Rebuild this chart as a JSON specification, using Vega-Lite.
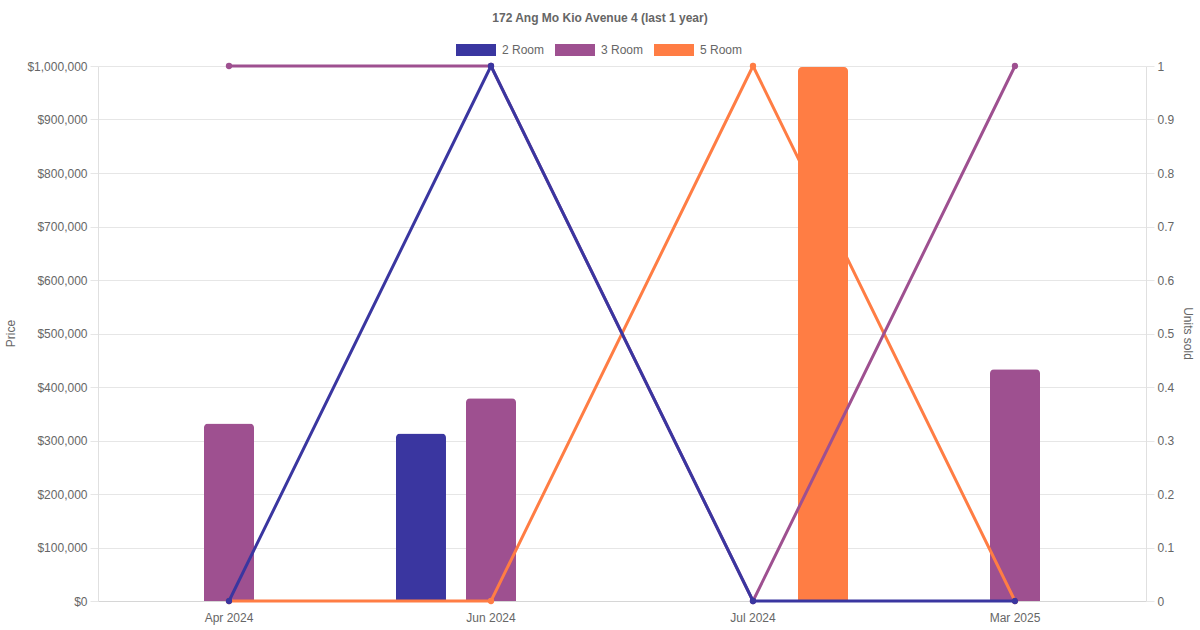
{
  "$schema": "https://vega.github.io/schema/vega-lite/v6.json",
  "width": 1048,
  "height": 535,
  "autosize": {"type": "none"},
  "padding": {"left": 98, "top": 66, "right": 54, "bottom": 29},
  "title": {
    "text": "172 Ang Mo Kio Avenue 4 (last 1 year)",
    "font": "Liberation Sans",
    "fontSize": 12,
    "fontWeight": "bold",
    "color": "#666666",
    "anchor": "middle",
    "frame": "group",
    "dx": -22,
    "offset": 5
  },
  "data": {
    "values": [
      {"month": "Apr 2024", "type": "2 Room", "price": null, "units": 0},
      {"month": "Apr 2024", "type": "3 Room", "price": 332000, "units": 1},
      {"month": "Apr 2024", "type": "5 Room", "price": null, "units": 0},
      {"month": "Jun 2024", "type": "2 Room", "price": 313000, "units": 1},
      {"month": "Jun 2024", "type": "3 Room", "price": 379000, "units": 1},
      {"month": "Jun 2024", "type": "5 Room", "price": null, "units": 0},
      {"month": "Jul 2024", "type": "2 Room", "price": null, "units": 0},
      {"month": "Jul 2024", "type": "3 Room", "price": null, "units": 0},
      {"month": "Jul 2024", "type": "5 Room", "price": 998000, "units": 1},
      {"month": "Mar 2025", "type": "2 Room", "price": null, "units": 0},
      {"month": "Mar 2025", "type": "3 Room", "price": 433000, "units": 1},
      {"month": "Mar 2025", "type": "5 Room", "price": null, "units": 0}
    ]
  },
  "layer": [
    {
      "transform": [{"filter": "datum.price != null && datum.type != '5 Room'"}],
      "mark": {"type": "bar", "cornerRadiusTopLeft": 4, "cornerRadiusTopRight": 4},
      "encoding": {
        "x": {"field": "month", "type": "nominal", "sort": ["Apr 2024", "Jun 2024", "Jul 2024", "Mar 2025"],
              "scale": {"domain": ["Apr 2024", "Jun 2024", "Jul 2024", "Mar 2025"], "paddingInner": 0, "paddingOuter": 0},
              "axis": {"title": null, "labelAngle": 0, "ticks": false, "tickSize": 0, "labelPadding": 11, "grid": false, "domainColor": "#d6d6d6"}},
        "xOffset": {"field": "type", "type": "nominal", "scale": {"domain": ["2 Room", "3 Room", "5 Room"], "paddingInner": 0.2857, "paddingOuter": 0.514}},
        "y": {"field": "price", "type": "quantitative", "scale": {"domain": [0, 1000000], "nice": false},
              "axis": {"title": "Price", "orient": "left", "format": "$,.0f", "values": [0,100000,200000,300000,400000,500000,600000,700000,800000,900000,1000000],
                       "labelOverlap": false, "grid": true, "tickSize": 8, "labelPadding": 3, "titleAngle": -90, "titleBaseline": "middle", "titleX": -88, "titleY": 267, "titleFontWeight": "normal"}},
        "color": {"field": "type", "type": "nominal",
                  "scale": {"domain": ["2 Room", "3 Room", "5 Room"], "range": ["#3a36a0", "#9e5090", "#ff7d44"]},
                  "legend": {"orient": "none", "direction": "horizontal", "legendX": 358, "legendY": -36, "title": null,
                             "symbolType": "M-1,-0.3H1V0.3H-1Z", "symbolSize": 1600, "symbolStrokeWidth": 0, "symbolOpacity": 1,
                             "labelFontSize": 12, "labelColor": "#666666", "labelFont": "Liberation Sans", "labelOffset": 6, "columnPadding": 10, "padding": 0}}
      }
    },
    {
      "transform": [{"filter": "datum.type == '5 Room'"}],
      "mark": {"type": "line", "strokeWidth": 3, "point": {"filled": true, "size": 40}},
      "encoding": {
        "x": {"field": "month", "type": "nominal", "sort": ["Apr 2024", "Jun 2024", "Jul 2024", "Mar 2025"]},
        "y": {"field": "units", "type": "quantitative", "scale": {"domain": [0, 1], "nice": false},
              "axis": {"title": "Units sold", "orient": "right", "values": [0,0.1,0.2,0.3,0.4,0.5,0.6,0.7,0.8,0.9,1], "format": "~g",
                       "labelOverlap": false, "grid": false, "tickSize": 8, "labelPadding": 3, "titleAngle": 90, "titleBaseline": "middle", "titleX": 41, "titleY": 267, "titleFontWeight": "normal"}},
        "color": {"field": "type", "type": "nominal", "legend": null}
      }
    },
    {
      "transform": [{"filter": "datum.price != null && datum.type == '5 Room'"}],
      "mark": {"type": "bar", "cornerRadiusTopLeft": 4, "cornerRadiusTopRight": 4},
      "encoding": {
        "x": {"field": "month", "type": "nominal", "sort": ["Apr 2024", "Jun 2024", "Jul 2024", "Mar 2025"]},
        "xOffset": {"field": "type", "type": "nominal"},
        "y": {"field": "price", "type": "quantitative", "scale": {"domain": [0, 1000000], "nice": false}, "axis": null},
        "color": {"field": "type", "type": "nominal", "legend": null}
      }
    },
    {
      "transform": [{"filter": "datum.type == '3 Room'"}],
      "mark": {"type": "line", "strokeWidth": 3, "point": {"filled": true, "size": 40}},
      "encoding": {
        "x": {"field": "month", "type": "nominal", "sort": ["Apr 2024", "Jun 2024", "Jul 2024", "Mar 2025"]},
        "y": {"field": "units", "type": "quantitative", "scale": {"domain": [0, 1], "nice": false}, "axis": null},
        "color": {"field": "type", "type": "nominal", "legend": null}
      }
    },
    {
      "transform": [{"filter": "datum.type == '2 Room'"}],
      "mark": {"type": "line", "strokeWidth": 3, "point": {"filled": true, "size": 40}},
      "encoding": {
        "x": {"field": "month", "type": "nominal", "sort": ["Apr 2024", "Jun 2024", "Jul 2024", "Mar 2025"]},
        "y": {"field": "units", "type": "quantitative", "scale": {"domain": [0, 1], "nice": false}, "axis": null},
        "color": {"field": "type", "type": "nominal", "legend": null}
      }
    }
  ],
  "resolve": {"scale": {"y": "independent"}},
  "config": {
    "view": {"stroke": null},
    "font": "Liberation Sans",
    "axis": {
      "labelFont": "Liberation Sans", "labelFontSize": 12, "labelColor": "#666666",
      "titleFont": "Liberation Sans", "titleFontSize": 12, "titleColor": "#666666",
      "gridColor": "#e6e6e6", "tickColor": "#e6e6e6", "domainColor": "#e0e0e0"
    }
  }
}
